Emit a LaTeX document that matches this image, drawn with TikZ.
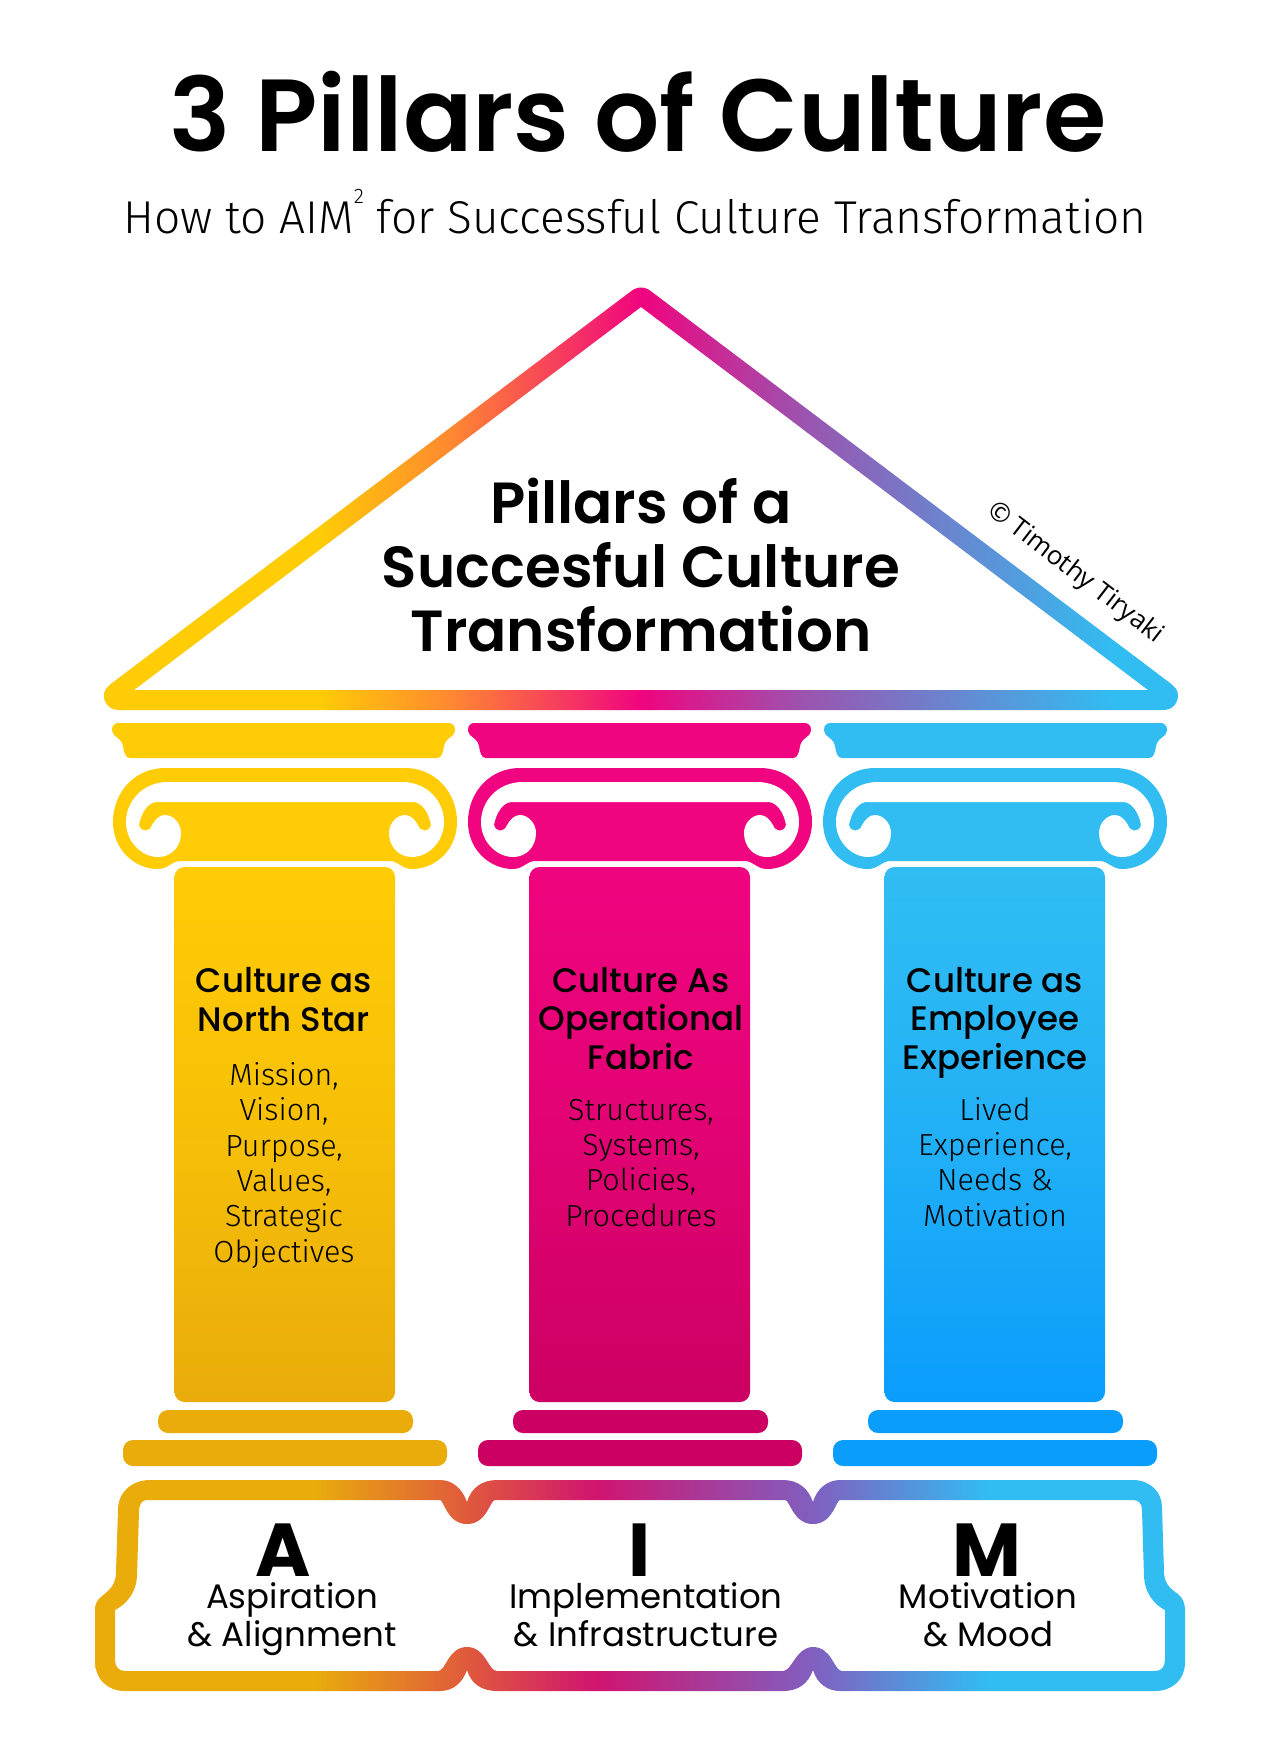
\documentclass[tikz,border=0pt]{standalone}
\usepackage{fontspec}
\setmainfont{Poppins}
\newfontfamily\headfont{Poppins SemiBold}
\newfontfamily\midfont{Poppins Medium}
\newfontfamily\bodyfont{Fira Sans Light}
\newfontfamily\signfont{Open Sans}
\definecolor{colgold}{HTML}{FFCC05}
\definecolor{colgoldlow}{HTML}{E9AC0B}
\definecolor{colpink}{HTML}{F0047F}
\definecolor{colpinklow}{HTML}{CC0062}
\definecolor{colblue}{HTML}{31BDF2}
\definecolor{colbluelow}{HTML}{0A9DFC}
\definecolor{colorange}{HTML}{FF8A30}
\definecolor{colpurple}{HTML}{9A55B0}
\definecolor{colred}{HTML}{E05A3C}
\definecolor{colrose}{HTML}{D01470}
\definecolor{colviolet}{HTML}{8060C0}
% the inner 25bp to 75bp of a shading is what covers the shape
\pgfdeclarehorizontalshading{roofshade}{100bp}{color(0bp)=(colgold); color(35bp)=(colgold); color(41bp)=(colorange); color(50bp)=(colpink); color(57.7bp)=(colpurple); color(72bp)=(colblue); color(100bp)=(colblue)}
\pgfdeclarehorizontalshading{plinthshade}{100bp}{color(0bp)=(colgoldlow); color(35bp)=(colgoldlow); color(42bp)=(colred); color(48bp)=(colrose); color(58bp)=(colviolet); color(66bp)=(colblue); color(100bp)=(colblue)}
\tikzset{
    titletext/.style={font=\headfont\fontsize{102.5}{102.5}\selectfont, inner sep=0pt},
    subtext/.style={font=\bodyfont\fontsize{46}{46}\selectfont, inner sep=0pt},
    rooftext/.style={font=\headfont\fontsize{58}{64}\selectfont, align=center, inner sep=0pt},
    pillartitle/.style={font=\midfont\fontsize{34}{38.5}\selectfont, align=center, inner sep=0pt},
    pillarbody/.style={font=\bodyfont\fontsize{30.5}{35.3}\selectfont, align=center, inner sep=0pt},
    aimletter/.style={font=\fontsize{75}{75}\selectfont\bfseries, inner sep=0pt},
    aimword/.style={font=\fontsize{34}{38}\selectfont, align=center, inner sep=0pt},
    signtext/.style={font=\signfont\fontsize{26}{26}\selectfont, inner sep=0pt}
}
\begin{document}
\begin{tikzpicture}[x=1pt,y=-1pt]
    \useasboundingbox (0,0) rectangle (1280,1753);
    \node[titletext,anchor=base] (maintitle) at (638,151) {3 Pillars of Culture};
    \node[subtext,anchor=base] (subtitle) at (635,233) {How to AIM\raisebox{30pt}{\fontsize{21}{21}\selectfont 2} for Successful Culture Transformation};
    % roof
    \shade[shading=roofshade,even odd rule]
        (652,292) -- (1170,683) .. controls (1175,687) and (1178,690) .. (1178,695) .. controls (1178,703) and (1173,710) .. (1163,710) -- (119,710) .. controls (109,710) and (104,703) .. (104,695) .. controls (104,690) and (107,687) .. (112,683) -- (630,292) .. controls (637,286) and (645,286) .. (652,292) -- cycle
        (641,307) -- (1148,690) -- (134,690) -- cycle;
    \node[rooftext,anchor=base] (rooftitle) at (641,651) {Pillars of a\\Succesful Culture\\Transformation};
    \node[signtext,rotate=-37.6] (signature) at (1075,573) {© Timothy Tiryaki};
    % pillars
    \foreach \dx/\ax/\ctop/\clow in {0/0/colgold/colgoldlow,355/356/colpink/colpinklow,710/712/colblue/colbluelow}
    {
        \begin{scope}[xshift=\ax]
            \fill[\ctop] (119,723) -- (448,723) .. controls (455,723) and (457,729) .. (453,735) .. controls (448,739) and (445,741) .. (444,746) .. controls (443,752) and (442,758) .. (437,758) -- (130,758) .. controls (125,758) and (124,752) .. (123,746) .. controls (122,741) and (119,739) .. (114,735) .. controls (110,729) and (112,723) .. (119,723) -- cycle;
        \end{scope}
        \begin{scope}[xshift=\dx]
            \fill[\ctop] (165,768) -- (405,768) .. controls (435,768) and (457,792) .. (457,822) .. controls (457,850) and (435,869) .. (412,869) .. controls (402,869) and (398,861) .. (390,861) -- (180,861) .. controls (172,861) and (168,869) .. (158,869) .. controls (135,869) and (113,850) .. (113,822) .. controls (113,792) and (135,768) .. (165,768) -- cycle;
            \fill[white] (168,782) -- (402,782) .. controls (428,782) and (444,802) .. (444,822) .. controls (444,842) and (428,857) .. (412,857) .. controls (398,857) and (389,846) .. (389,833) .. controls (389,823) and (397,815) .. (405,815) .. controls (411,815) and (415,820) .. (418,825) .. controls (420,832) and (429,833) .. (431,825) .. controls (429,813) and (422,802) .. (413,802) -- (157,802) .. controls (148,802) and (141,813) .. (139,825) .. controls (141,833) and (150,832) .. (152,825) .. controls (155,820) and (159,815) .. (165,815) .. controls (173,815) and (181,823) .. (181,833) .. controls (181,846) and (172,857) .. (158,857) .. controls (142,857) and (126,842) .. (126,822) .. controls (126,802) and (142,782) .. (168,782) -- cycle;
            \shade[top color=\ctop,bottom color=\clow,middle color=\ctop!60!\clow,rounded corners=10] (174.5,867) rectangle (395,1402);
            \fill[\clow,rounded corners=10] (158,1410) rectangle (413,1433);
            \fill[\clow,rounded corners=10] (123,1440) rectangle (447,1466);
        \end{scope}
    }
    % texts of the pillars
    \node[pillartitle,anchor=base] (titlestar) at (284,1031) {Culture as\\North Star};
    \node[pillarbody,anchor=base] (bodystar) at (284,1262) {Mission,\\Vision,\\Purpose,\\Values,\\Strategic\\Objectives};
    \node[pillartitle,anchor=base] (titlefabric) at (641,1069) {Culture As\\Operational\\Fabric};
    \node[pillarbody,anchor=base] (bodyfabric) at (641,1226) {Structures,\\Systems,\\Policies,\\Procedures};
    \node[pillartitle,anchor=base] (titleemployee) at (995,1069) {Culture as\\Employee\\Experience};
    \node[pillarbody,anchor=base] (bodyemployee) at (995,1226) {Lived\\Experience,\\Needs \&\\Motivation};
    % plinth
    \shade[shading=plinthshade,even odd rule]
        (150,1480) -- (440,1480) .. controls (452,1480) and (462,1488) .. (467,1502) .. controls (471,1488) and (482,1480) .. (497,1480) -- (783,1480) .. controls (798,1480) and (808,1488) .. (813,1502) .. controls (817,1488) and (828,1480) .. (840,1480) -- (1133,1480) .. controls (1150,1480) and (1162,1492) .. (1162,1507) -- (1164,1572) .. controls (1164,1584) and (1172,1590) .. (1178,1594) .. controls (1183,1598) and (1185,1604) .. (1185,1610) -- (1185,1662) .. controls (1185,1680) and (1172,1691) .. (1155,1691) -- (840,1691) .. controls (828,1691) and (817,1684) .. (813,1670) .. controls (808,1684) and (798,1691) .. (783,1691) -- (497,1691) .. controls (482,1691) and (471,1684) .. (467,1670) .. controls (462,1684) and (452,1691) .. (440,1691) -- (125,1691) .. controls (108,1691) and (95,1680) .. (95,1660) -- (95,1610) .. controls (95,1604) and (97,1600) .. (102,1596) .. controls (110,1590) and (116,1584) .. (116,1572) -- (118,1510) .. controls (118,1492) and (132,1480) .. (150,1480) -- cycle
        (147,1500) -- (440,1500) .. controls (444,1500) and (447,1524) .. (467,1524) .. controls (487,1524) and (490,1500) .. (495,1500) -- (785,1500) .. controls (790,1500) and (793,1524) .. (813,1524) .. controls (833,1524) and (836,1500) .. (840,1500) -- (1133,1500) .. controls (1138,1500) and (1142,1503) .. (1142,1510) -- (1144,1577) .. controls (1145,1592) and (1153,1604) .. (1165,1610) -- (1165,1660) .. controls (1165,1667) and (1161,1671) .. (1155,1671) -- (842,1671) .. controls (834,1671) and (832,1647) .. (813,1647) .. controls (796,1647) and (792,1671) .. (783,1671) -- (497,1671) .. controls (488,1671) and (486,1647) .. (467,1647) .. controls (448,1647) and (446,1671) .. (438,1671) -- (125,1671) .. controls (119,1671) and (115,1667) .. (115,1660) -- (115,1610) .. controls (127,1604) and (136,1592) .. (137,1577) -- (139,1512) .. controls (139,1504) and (142,1500) .. (147,1500) -- cycle;
    \node[aimletter,anchor=base] (letterA) at (283,1576) {A};
    \node[aimword,anchor=base] (wordA) at (292,1646) {Aspiration\\\& Alignment};
    \node[aimletter,anchor=base] (letterI) at (640,1576) {I};
    \node[aimword,anchor=base] (wordI) at (646,1646) {Implementation\\\& Infrastructure};
    \node[aimletter,anchor=base] (letterM) at (987,1576) {M};
    \node[aimword,anchor=base] (wordM) at (988,1646) {Motivation\\\& Mood};
\end{tikzpicture}
\end{document}
